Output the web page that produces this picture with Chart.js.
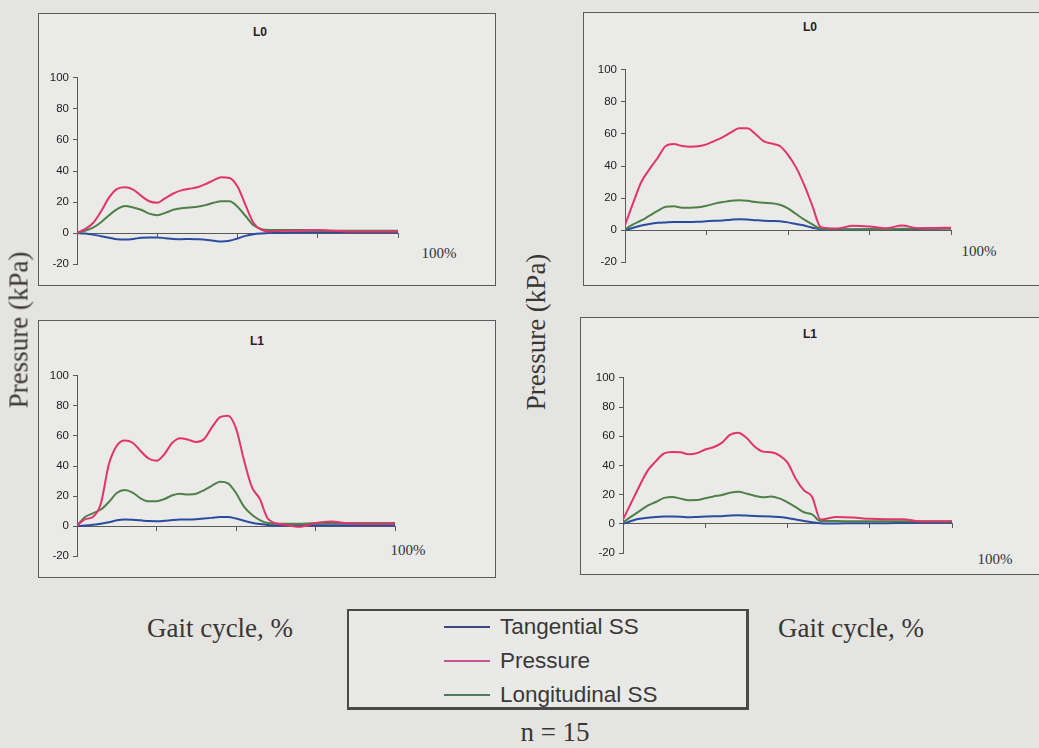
<!DOCTYPE html>
<html>
<head>
<meta charset="utf-8">
<script src="https://cdn.jsdelivr.net/npm/chart.js@4.4.1/dist/chart.umd.min.js"></script>
<style>
  body { margin: 0; width: 1039px; height: 748px; overflow: hidden; position: relative;
         background: #e4e4e1; font-family: "Liberation Serif", "Times New Roman", serif; }
  .box { position: absolute; box-sizing: border-box; border: 1.5px solid #5c5a5a; background: #eaeae8; }
  .cv { position: absolute; }
  .ttl { position: absolute; font: bold 12px "Liberation Sans", Arial, sans-serif; color: #222;
         transform: translate(-50%, -50%); white-space: nowrap; }
  .pct { position: absolute; font-size: 15px; color: #333; transform: translate(-50%, -50%); white-space: nowrap; }
  .axl { position: absolute; font-size: 27px; color: #3a3636; transform: translate(-50%, -50%); white-space: nowrap; }
  .axl.rot { transform: translate(-50%, -50%) rotate(-90deg); }
  .legend { position: absolute; left: 347px; top: 609px; width: 402px; height: 101px; box-sizing: border-box;
            border: 2px solid #4a4848; border-right-width: 3px; border-bottom-width: 3px; background: #e9e9e7; }
  .lrow { position: absolute; left: 95px; height: 30px; display: flex; align-items: center;
          font: 22.5px "Liberation Sans", Arial, sans-serif; color: #3a3838; white-space: nowrap; }
  .lrow span.sw { display: inline-block; width: 46px; height: 2px; margin-right: 10px; }
</style>
</head>
<body>
<script>
// Gait cycle sample points (% of cycle)
const gaitPct = [0, 2.5, 5, 7.5, 10, 12.5, 15, 17.5, 20, 22.5, 25, 27.5, 30, 32.5, 35, 37.5, 40,
                 42.5, 45, 47.5, 50, 52.5, 55, 57.5, 60, 65, 70, 75, 80, 85, 90, 95, 100];

// Y axis tick labels (kPa)
const yTicks = [-20, 0, 20, 40, 60, 80, 100];

// Series names
const seriesNames = ['Tangential SS', 'Pressure', 'Longitudinal SS'];

// Left column, L0
const leftL0Tangential = [0, -0.3, -1, -2, -3, -4, -4.2, -3.8, -3, -2.8, -2.8, -3.3, -3.8, -4, -3.8, -4, -4.3,
                          -5, -5.5, -5, -3.5, -1.8, -0.8, -0.3, 0, 0.3, 0.5, 0.5, 0.5, 0.5, 0.5, 0.5, 0.5];
const leftL0Pressure = [0.3, 2.5, 6.5, 14, 23, 28.5, 29.5, 28, 24, 20.5, 19.5, 22.5, 25.5, 27.5, 28.5, 29.5, 31.5,
                        34, 36, 35.5, 30, 18, 6.5, 2, 1, 1.5, 1.5, 2, 1.5, 1, 1, 1, 1];
const leftL0Longitudinal = [0, 1.5, 3.5, 7, 11.5, 15.5, 17.5, 16.5, 15, 12.5, 11.5, 13, 15, 16, 16.5, 17, 18,
                            19.5, 20.5, 20.5, 17, 11, 5, 2.5, 2, 2, 2, 1.5, 1.5, 1.5, 1.5, 1.5, 1.5];

// Right column, L0
const rightL0Tangential = [0, 1.5, 2.8, 3.8, 4.5, 4.8, 5, 5, 5, 5.2, 5.5, 5.8, 6, 6.5, 6.8, 6.6, 6.2,
                           5.8, 5.7, 5.5, 4.8, 3.8, 2.8, 1.5, 0.5, 0.3, 0.3, 0.5, 0.5, 0.5, 0.7, 0.8, 1];
const rightL0Pressure = [3, 17, 30, 38, 45, 52.5, 53.7, 52.5, 52, 52.3, 53.5, 55.7, 58, 61, 63.5, 63.5, 60,
                         55.5, 54, 52.5, 47, 39, 28, 15, 2, 1, 2.7, 2.2, 1.2, 2.8, 1.2, 1.3, 1.5];
const rightL0Longitudinal = [0.5, 3.5, 6, 9, 12, 14.5, 14.8, 14, 14, 14.3, 15.2, 16.5, 17.5, 18.3, 18.6, 18.3, 17.5,
                             17, 16.8, 15.8, 13.5, 10, 6.5, 3.5, 1, 0.5, 0.5, 0.5, 0.5, 0.8, 1, 1, 1];

// Left column, L1
const leftL1Tangential = [0, 0.3, 0.8, 1.5, 2.5, 3.8, 4.3, 4.2, 3.8, 3.3, 3.2, 3.5, 4, 4.3, 4.3, 4.5, 5,
                          5.5, 6, 6, 5, 3.5, 2.2, 1.3, 0.7, 0.5, 0.5, 0.5, 0.5, 0.5, 0.5, 0.5, 0.5];
const leftL1Pressure = [0.4, 4.5, 6, 15, 41, 53.5, 57, 55.5, 50, 45, 43.5, 48, 55.5, 58.5, 57.5, 56, 58,
                        66, 72.5, 73.5, 65, 44, 26, 18, 5, 1, -0.5, 2, 3, 1.8, 1.5, 1.5, 1.5];
const leftL1Longitudinal = [0.3, 6, 8.5, 11, 16, 22, 24, 22.3, 18.5, 16.5, 16.5, 18, 20.5, 21.5, 21, 21.5, 24,
                            27, 29.5, 28.5, 22, 13, 7.5, 4, 2, 1.5, 1.5, 2, 2, 2, 2, 2, 2];

// Right column, L1
const rightL1Tangential = [0, 2, 3.5, 4.2, 4.8, 5, 5, 4.9, 4.6, 4.8, 5, 5.2, 5.3, 5.8, 6, 5.7, 5.4,
                           5.2, 5, 4.8, 4, 3, 2, 1.2, 0.5, 0.3, 0.5, 0.5, 0.5, 0.7, 0.8, 1, 1];
const rightL1Pressure = [3, 14.5, 26, 36.5, 43, 48.3, 49.3, 49, 47.7, 48.5, 51, 52.5, 55.5, 61, 62.5, 59, 53,
                         49.5, 49, 47, 42, 31, 23, 18.5, 3, 4.7, 4.3, 3.5, 3.2, 3.2, 1.8, 1.6, 1.8];
const rightL1Longitudinal = [1, 5, 8.8, 12.5, 15, 17.8, 18.5, 17.3, 16.2, 16.3, 17.6, 18.8, 19.8, 21.3, 22, 20.8, 19.3,
                             18.2, 18.8, 17.5, 14.8, 11.5, 8, 6.5, 2, 2, 1.8, 1.8, 1.8, 1.8, 1.8, 1.8, 1.8];

// Line colours for the three series and their legend swatches
const lineColors = ['#2b4c9e', '#e2336d', '#4f8048'];
const legendColors = ['#3b4a7a', '#c4568c', '#4f7a5a'];

// Layout of the four panels: frame box, plot area, title and end label
const panels = [
  { title: 'L0', data: [leftL0Tangential, leftL0Pressure, leftL0Longitudinal],
    box: [38, 13, 458, 273], plot: [77, 398, 77, 265], titleAt: [260, 32], pctAt: [439, 253] },
  { title: 'L0', data: [rightL0Tangential, rightL0Pressure, rightL0Longitudinal],
    box: [583, 12, 470, 274], plot: [625, 951, 69, 263], titleAt: [810, 27], pctAt: [979, 251] },
  { title: 'L1', data: [leftL1Tangential, leftL1Pressure, leftL1Longitudinal],
    box: [38, 320, 458, 258], plot: [77, 395, 375, 557], titleAt: [257, 341], pctAt: [408, 550] },
  { title: 'L1', data: [rightL1Tangential, rightL1Pressure, rightL1Longitudinal],
    box: [580, 317, 470, 258], plot: [623, 952, 377, 554], titleAt: [810, 334], pctAt: [995, 559] }
];

const Y_AXIS_W = 44, PAD_V = 10, PAD_R = 6;

function addEl(cls, text, x, y) {
  const d = document.createElement('div');
  d.className = cls;
  d.textContent = text;
  d.style.left = x + 'px';
  d.style.top = y + 'px';
  document.body.appendChild(d);
  return d;
}

panels.forEach(p => {
  const box = document.createElement('div');
  box.className = 'box';
  box.style.left = p.box[0] + 'px';
  box.style.top = p.box[1] + 'px';
  box.style.width = p.box[2] + 'px';
  box.style.height = p.box[3] + 'px';
  document.body.appendChild(box);

  addEl('ttl', p.title, p.titleAt[0], p.titleAt[1]);
  addEl('pct', '100%', p.pctAt[0], p.pctAt[1]);

  const [x0, x1, yTop, yBot] = p.plot;
  const cv = document.createElement('canvas');
  cv.className = 'cv';
  const w = (x1 - x0) + Y_AXIS_W + PAD_R;
  const h = (yBot - yTop) + 2 * PAD_V;
  cv.width = w; cv.height = h;
  cv.style.width = w + 'px'; cv.style.height = h + 'px';
  cv.style.left = (x0 - Y_AXIS_W) + 'px';
  cv.style.top = (yTop - PAD_V) + 'px';
  document.body.appendChild(cv);

  const datasets = [1, 2, 0].map(i => ({
    label: seriesNames[i],
    data: gaitPct.map((x, k) => ({ x: x, y: p.data[i][k] })),
    borderColor: lineColors[i],
    borderWidth: 2,
    pointRadius: 0,
    cubicInterpolationMode: 'monotone',
    fill: false
  }));

  new Chart(cv, {
    type: 'line',
    data: { datasets },
    options: {
      responsive: false,
      animation: false,
      devicePixelRatio: 1,
      layout: { padding: { top: PAD_V, bottom: PAD_V, left: 0, right: PAD_R } },
      plugins: { legend: { display: false }, tooltip: { enabled: false } },
      scales: {
        x: {
          type: 'linear', min: 0, max: 100,
          position: { y: 0 },
          ticks: { display: false, stepSize: 25 },
          grid: { drawOnChartArea: false, drawTicks: true, tickLength: 4, color: '#5a5a5a' },
          border: { display: true, color: '#5a5a5a', width: 1 }
        },
        y: {
          type: 'linear', min: yTicks[0], max: yTicks[yTicks.length - 1],
          afterBuildTicks: s => { s.ticks = yTicks.map(v => ({ value: v })); },
          afterFit: s => { s.width = Y_AXIS_W; },
          ticks: { color: '#222', padding: 4, font: { family: '"Liberation Sans", Arial, sans-serif', size: 11.5 } },
          grid: { drawOnChartArea: false, drawTicks: true, tickLength: 4, color: '#5a5a5a' },
          border: { display: true, color: '#5a5a5a', width: 1 }
        }
      }
    }
  });
});

// Axis captions
addEl('axl rot', 'Pressure (kPa)', 19, 330);
addEl('axl rot', 'Pressure (kPa)', 536, 332);
addEl('axl', 'Gait cycle, %', 220, 628);
addEl('axl', 'Gait cycle, %', 851, 628);
addEl('axl', 'n = 15', 555, 732);

// Shared legend
const lg = document.createElement('div');
lg.className = 'legend';
document.body.appendChild(lg);
seriesNames.forEach((name, i) => {
  const row = document.createElement('div');
  row.className = 'lrow';
  row.style.top = (i * 34 + 1) + 'px';
  const sw = document.createElement('span');
  sw.className = 'sw';
  sw.style.background = legendColors[i];
  row.appendChild(sw);
  row.appendChild(document.createTextNode(name));
  lg.appendChild(row);
});
</script>
</body>
</html>
